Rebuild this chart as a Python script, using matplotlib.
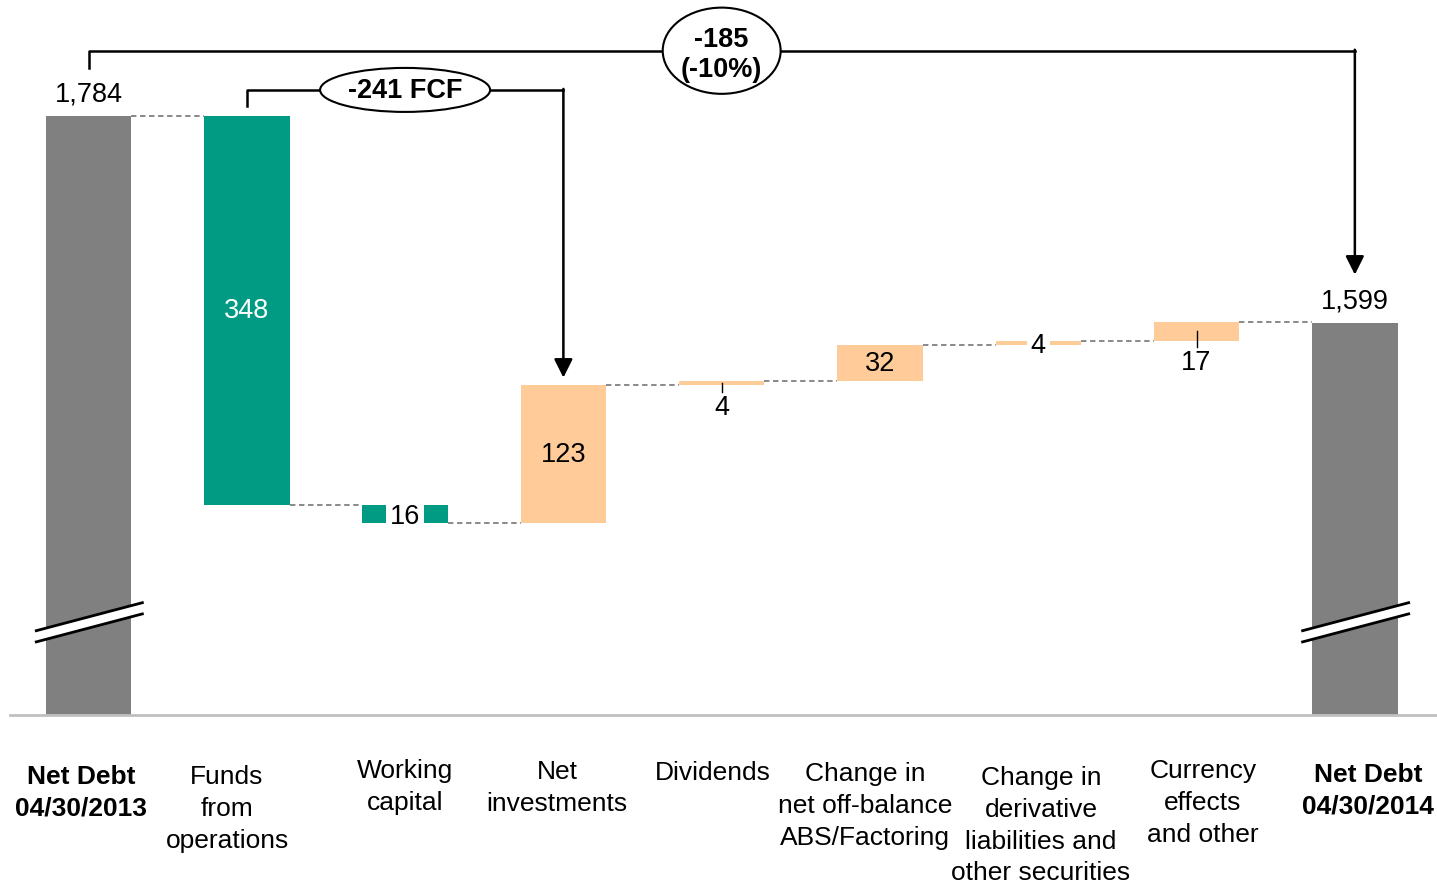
import matplotlib.pyplot as plt
from matplotlib.patches import Ellipse, Polygon

plt.rcParams['font.family'] = ['Liberation Sans', 'DejaVu Sans']

# 数据
categories = ['Net Debt\n04/30/2013', 'Funds\nfrom\noperations', 'Working\ncapital',
              'Net\ninvestments', 'Dividends', 'Change in\nnet off-balance\nABS/Factoring',
              'Change in\nderivative\nliabilities and\nother securities',
              'Currency\neffects\nand other', 'Net Debt\n04/30/2014']
start_value = 1784
end_value = 1599
changes = [-348, -16, 123, 4, 32, 4, 17]
value_labels = ['1,784', '348', '16', '123', '4', '32', '4', '17', '1,599']
fcf_label = '-241 FCF'
total_label = '-185\n(-10%)'

# 样式
GRAY = '#808080'
GREEN = '#009B82'
PEACH = '#FFCC99'
label_pos = ['above', 'inside_w', 'gap', 'inside', 'below', 'inside', 'gap', 'below', 'above']
label_dx = [-0.047, -0.125, 0.0, -0.04, -0.055, -0.095, 0.017, 0.04, 0.083]
label_top_px = [765, 765, 759, 760, 761, 762, 766, 759, 763]
bold = [True, False, False, False, False, False, False, False, True]

fig = plt.figure(figsize=(14.37, 8.87), dpi=100)
ax = fig.add_axes([10 / 1437, 171 / 887, 1427 / 1437, 716 / 887])
ymin, ymax = 1248.7, 1888.2
ax.set_xlim(-0.496, 8.519)
ax.set_ylim(ymin, ymax)
w = 0.54

# 计算瀑布
tops, bottoms, colors, levels = [], [], [], []
run = start_value
tops.append(start_value); bottoms.append(ymin); colors.append(GRAY); levels.append(run)
for c in changes:
    new = run + c
    tops.append(max(run, new)); bottoms.append(min(run, new))
    colors.append(GREEN if c < 0 else PEACH)
    run = new
    levels.append(run)
tops.append(end_value); bottoms.append(ymin); colors.append(GRAY)

x = list(range(len(categories)))
ax.bar(x, [t - b for t, b in zip(tops, bottoms)], bottom=bottoms, width=w,
       color=colors, zorder=2)

# 连接虚线
for i in range(len(categories) - 1):
    ax.plot([i + w / 2, i + 1 - w / 2], [levels[i], levels[i]], color=GRAY,
            lw=1.3, ls=(0, (3, 2)), zorder=1)

# 数值标签
fs = 19.5
for i, lab in enumerate(value_labels):
    mid = (tops[i] + bottoms[i]) / 2
    p = label_pos[i]
    if p == 'above':
        ax.text(i, tops[i] + 19.7, lab, ha='center', va='center', fontsize=fs)
    elif p == 'inside_w':
        ax.text(i, mid, lab, ha='center', va='center', fontsize=fs, color='white')
    elif p == 'inside':
        ax.text(i, mid, lab, ha='center', va='center', fontsize=fs)
    elif p == 'gap':
        ax.text(i, mid - 1.5, lab, ha='center', va='center', fontsize=fs, zorder=3,
                bbox=dict(boxstyle='square,pad=0.15', fc='white', ec='none'))
    elif p == 'below':
        ax.plot([i, i], [mid, bottoms[i] - 6], color='black', lw=1, zorder=3)
        ax.text(i, bottoms[i] - 19, lab, ha='center', va='center', fontsize=fs)

# 断轴标记
for i in [0, len(categories) - 1]:
    x0, x1 = i - 0.33, i + 0.34
    ax.add_patch(Polygon([(x0, 1314), (x1, 1339), (x1, 1349), (x0, 1324)],
                         closed=True, fc='white', ec='none', zorder=3, clip_on=False))
    ax.plot([x0, x1], [1314, 1339], color='black', lw=2, zorder=4, clip_on=False)
    ax.plot([x0, x1], [1324, 1349], color='black', lw=2, zorder=4, clip_on=False)

# 总变化括号
lvl = start_value + 58
ax.plot([0, 0, 8], [start_value + 43, lvl, lvl], color='black', lw=1.8, zorder=5)
ax.annotate('', xy=(8, end_value + 43), xytext=(8, lvl + 0.9),
            arrowprops=dict(arrowstyle='-|>', mutation_scale=28, lw=1.8,
                            color='black', shrinkA=0, shrinkB=0), zorder=5)
ax.add_patch(Ellipse((4, lvl), 0.745, 77, fc='white', ec='black', lw=1.5, zorder=6))
ax.text(4, lvl - 2.5, total_label, ha='center', va='center', fontsize=19.5,
        fontweight='bold', linespacing=1.2, zorder=7)

# FCF括号
lvl2 = start_value + 23
ax.plot([1, 1, 3], [start_value + 9, lvl2, lvl2], color='black', lw=1.8, zorder=5)
ax.annotate('', xy=(3, levels[3] + 7), xytext=(3, lvl2 + 0.9),
            arrowprops=dict(arrowstyle='-|>', mutation_scale=28, lw=1.8,
                            color='black', shrinkA=0, shrinkB=0), zorder=5)
ax.add_patch(Ellipse((2, lvl2), 1.074, 39.3, fc='white', ec='black', lw=1.5, zorder=6))
ax.text(2, lvl2, fcf_label, ha='center', va='center', fontsize=19.5,
        fontweight='bold', zorder=7)

# 坐标轴
for s in ['top', 'right', 'left']:
    ax.spines[s].set_visible(False)
ax.spines['bottom'].set_color('#C0C0C0')
ax.spines['bottom'].set_linewidth(2)
ax.set_xticks([])
ax.set_yticks([])

for i, cat in enumerate(categories):
    ax.text(i + label_dx[i], (716 - label_top_px[i]) / 716, cat,
            transform=ax.get_xaxis_transform(), ha='center', va='top',
            fontsize=19, fontweight='bold' if bold[i] else 'normal', linespacing=1.41)

plt.savefig('out.png', dpi=100)
